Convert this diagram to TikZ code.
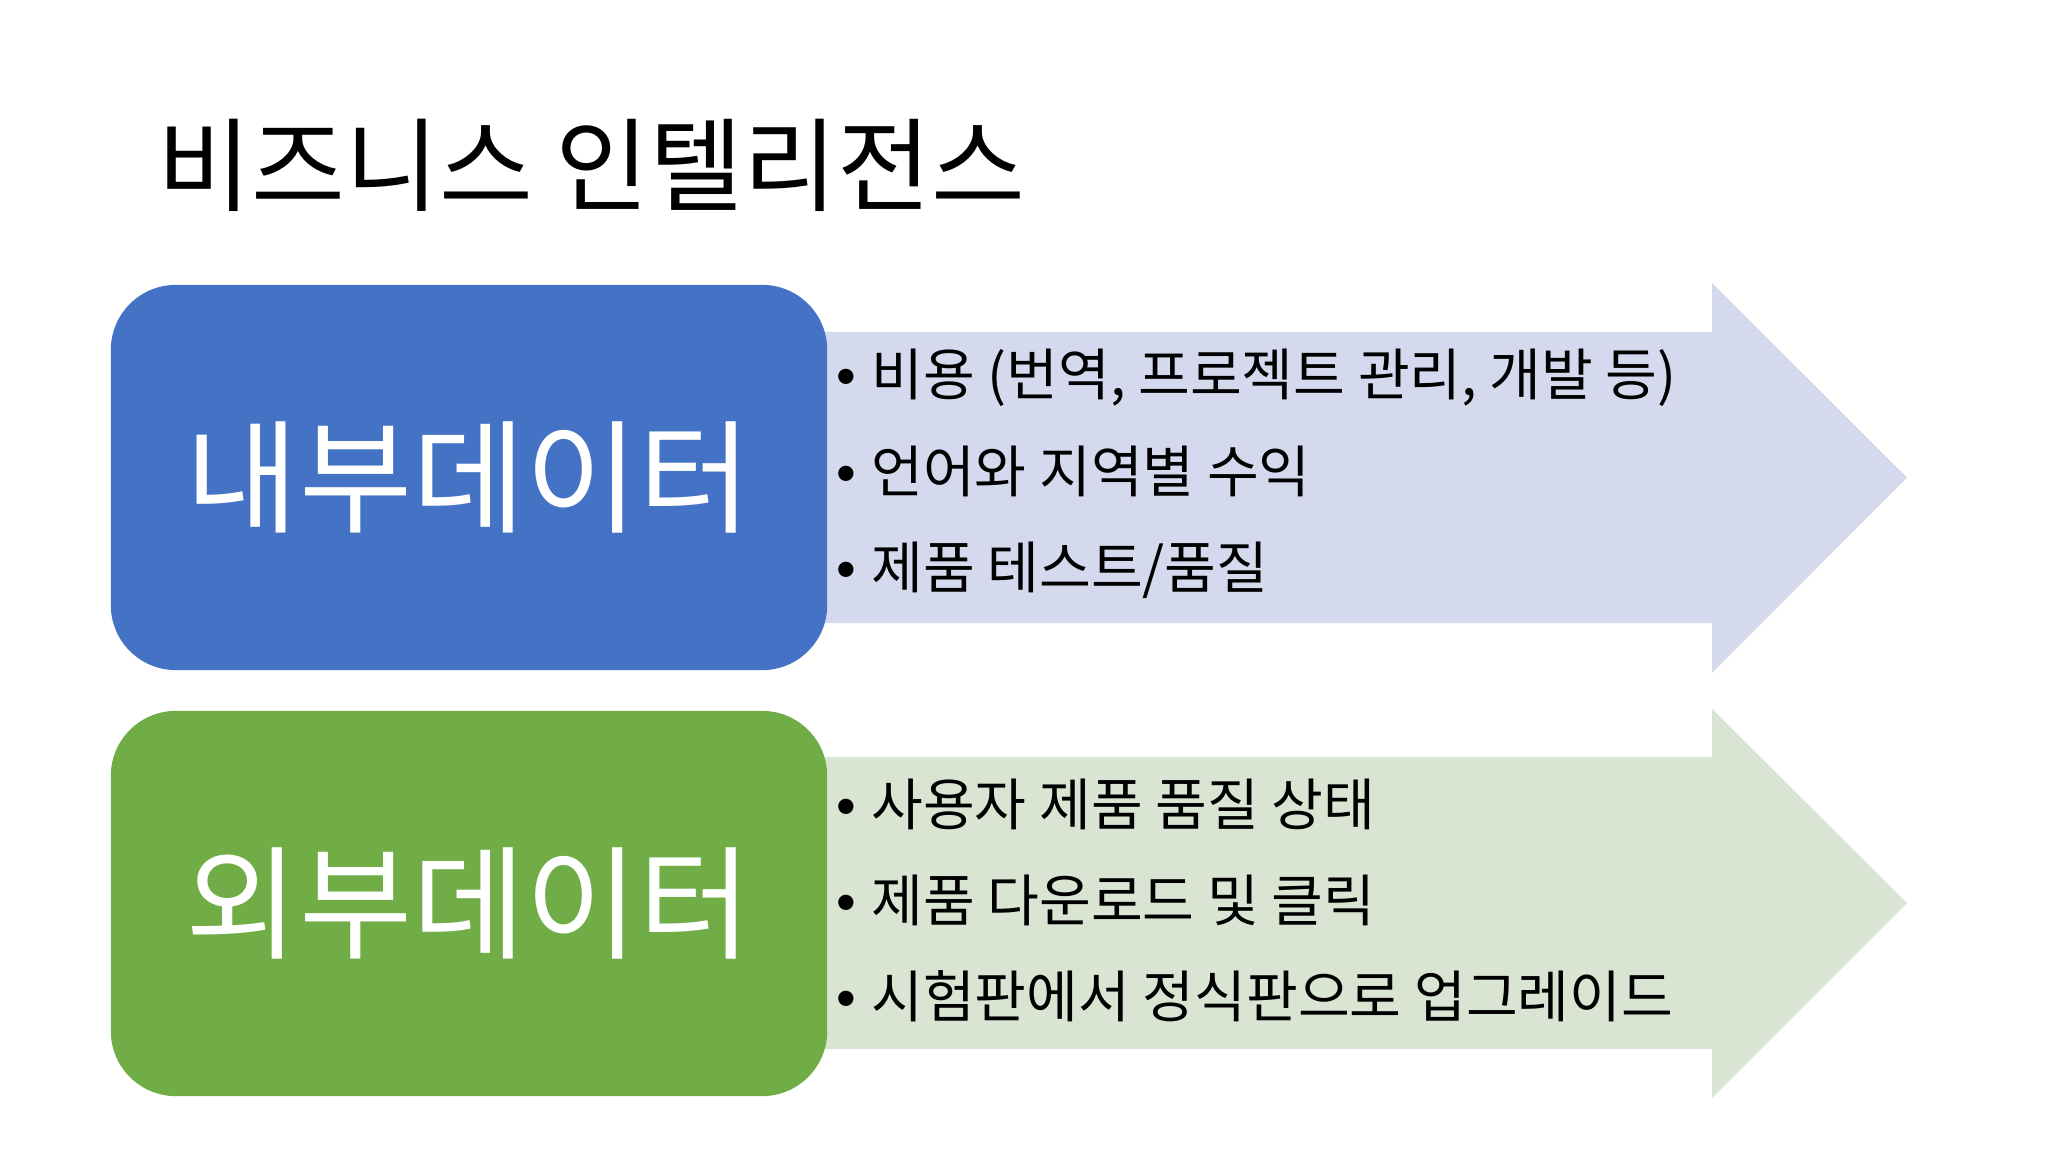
\documentclass[tikz,border=0pt]{standalone}
\usepackage{fontspec}
\setmainfont{Noto Sans CJK KR}
\newfontfamily\bulletfont{Liberation Sans}
\usetikzlibrary{positioning}

\definecolor{boxblue}{HTML}{4472C4}
\definecolor{boxgreen}{HTML}{70AD47}
\definecolor{arrowblue}{HTML}{D5D9EE}
\definecolor{arrowgreen}{HTML}{DAE4D3}

\newcommand{\blt}{{\bulletfont\textbullet}\hspace{0.15cm}}

\tikzset{
  databox/.style={rounded corners=0.65cm, minimum width=7.16cm, minimum height=3.85cm,
    text=white, font=\fontsize{35}{42}\selectfont},
  itemtext/.style={anchor=base west, inner sep=0pt, font=\fontsize{16}{19}\selectfont},
}

\begin{document}
\begin{tikzpicture}[x=0.01cm,y=-0.01cm]
\useasboundingbox[fill=white] (0,0) rectangle (2048,1152);
% arrows behind the boxes
\fill[arrowblue] (469,332)--(1712,332)--(1712,283)--(1907,477.5)--(1712,673)--(1712,623)--(469,623)--cycle;
\fill[arrowgreen] (469,757)--(1712,757)--(1712,709)--(1907,903)--(1712,1098)--(1712,1049)--(469,1049)--cycle;
% title
\node[anchor=base west, inner sep=0pt, font=\fontsize{29}{34}\selectfont] (title) at (157,204) {비즈니스 인텔리전스};
% boxes
\node[databox, fill=boxblue] (inner) at (469,477.5) {내부데이터};
\node[databox, fill=boxgreen] (outer) at (469,903.5) {외부데이터};
% items
\node[itemtext] (cost) at (836,396) {\blt 비용 (번역, 프로젝트 관리, 개발 등)};
\node[itemtext] (revenue) at (836,493) {\blt 언어와 지역별 수익};
\node[itemtext] (testing) at (836,589) {\blt 제품 테스트/품질};
\node[itemtext] (quality) at (836,825) {\blt 사용자 제품 품질 상태};
\node[itemtext] (clicks) at (836,921) {\blt 제품 다운로드 및 클릭};
\node[itemtext] (upgrade) at (836,1017) {\blt 시험판에서 정식판으로 업그레이드};
\end{tikzpicture}
\end{document}
